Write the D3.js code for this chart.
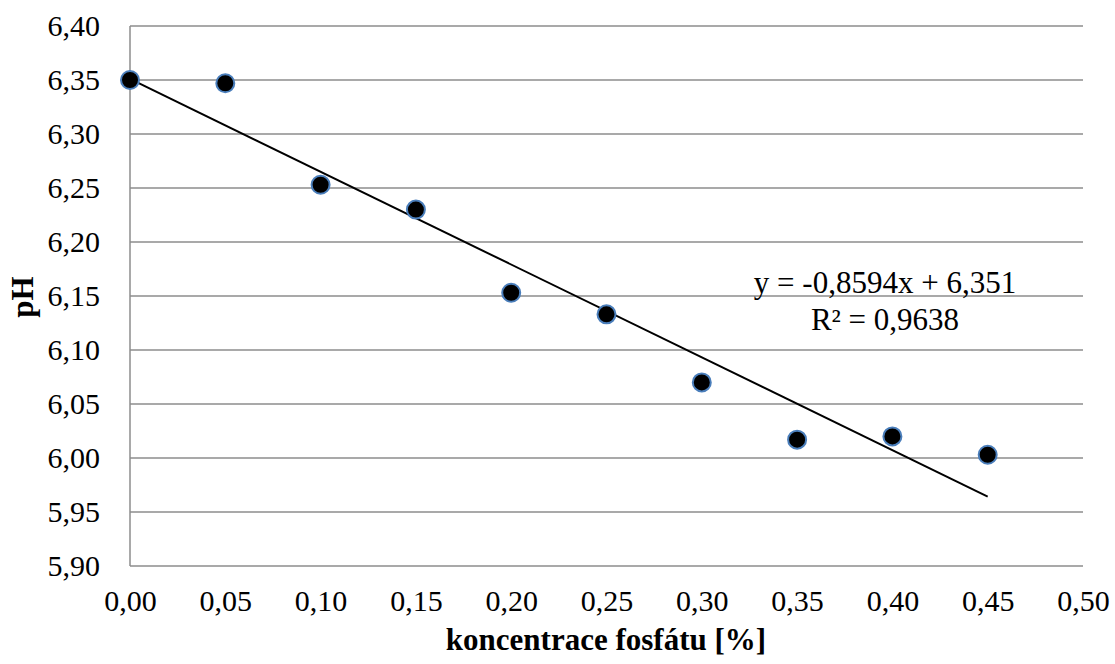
<!DOCTYPE html>
<html><head><meta charset="utf-8">
<script src="https://cdn.jsdelivr.net/npm/d3@7"></script>
<style>body{margin:0;background:#fff}svg{display:block}</style>
</head><body>
<svg id="c" width="1115" height="664"></svg>
<script>
const xValues = [0.00, 0.05, 0.10, 0.15, 0.20, 0.25, 0.30, 0.35, 0.40, 0.45];
const phValues = [6.350, 6.347, 6.253, 6.230, 6.153, 6.133, 6.070, 6.017, 6.020, 6.003];
const xTicks = [0, 0.05, 0.10, 0.15, 0.20, 0.25, 0.30, 0.35, 0.40, 0.45, 0.50];
const yTicks = [5.90, 5.95, 6.00, 6.05, 6.10, 6.15, 6.20, 6.25, 6.30, 6.35, 6.40];
const slope = -0.8594, intercept = 6.351;
const eqLines = ["y = -0,8594x + 6,351", "R² = 0,9638"];

const svg = d3.select("#c");
const font = "'Liberation Serif','Times New Roman',serif";
const x = d3.scaleLinear().domain([0, 0.5]).range([130, 1083]);
const y = d3.scaleLinear().domain([5.90, 6.40]).range([566, 26]);
const fmt = d => d.toFixed(2).replace(".", ",");

// gridlines
svg.append("g").selectAll("line").data(yTicks).join("line")
  .attr("x1", x(0)).attr("x2", x(0.5))
  .attr("y1", d => y(d)).attr("y2", d => y(d))
  .attr("stroke", "#8c8c8c").attr("stroke-width", 1.5);

// left axis line
svg.append("line").attr("x1", x(0)).attr("x2", x(0)).attr("y1", y(6.40)).attr("y2", y(5.90))
  .attr("stroke", "#8c8c8c").attr("stroke-width", 1.5);

// y axis
const yAxis = d3.axisLeft(y).tickValues(yTicks).tickFormat(fmt).tickSize(0).tickPadding(30);
const gy = svg.append("g").attr("transform", `translate(${x(0)},0)`).call(yAxis);
gy.select(".domain").remove();
gy.selectAll("text").attr("font-family", font).attr("font-size", 30).attr("fill", "#000");

// x axis
const xAxis = d3.axisBottom(x).tickValues(xTicks).tickFormat(fmt).tickSize(0).tickPadding(24);
const gx = svg.append("g").attr("transform", `translate(0,${y(5.90)})`).call(xAxis);
gx.select(".domain").remove();
gx.selectAll("text").attr("font-family", font).attr("font-size", 30).attr("fill", "#000");

// trendline
svg.append("line")
  .attr("x1", x(0)).attr("y1", y(intercept))
  .attr("x2", x(0.45)).attr("y2", y(intercept + slope * 0.45))
  .attr("stroke", "#000").attr("stroke-width", 2);

// points
svg.append("g").selectAll("circle").data(xValues.map((v, i) => [v, phValues[i]])).join("circle")
  .attr("cx", d => x(d[0])).attr("cy", d => y(d[1])).attr("r", 9)
  .attr("fill", "#000").attr("stroke", "#4a7ebb").attr("stroke-width", 2);

// equation
svg.append("g").selectAll("text").data(eqLines).join("text")
  .attr("x", 885).attr("y", (d, i) => 293 + i * 37)
  .attr("text-anchor", "middle").attr("font-family", font).attr("font-size", 31)
  .attr("fill", "#000").text(d => d);

// axis titles
svg.append("text").attr("x", 606).attr("y", 650).attr("text-anchor", "middle")
  .attr("font-family", font).attr("font-size", 31).attr("font-weight", "bold")
  .text("koncentrace fosfátu [%]");
svg.append("text").attr("transform", "translate(33,297) rotate(-90)").attr("text-anchor", "middle")
  .attr("font-family", font).attr("font-size", 31).attr("font-weight", "bold")
  .text("pH");
</script>
</body></html>
